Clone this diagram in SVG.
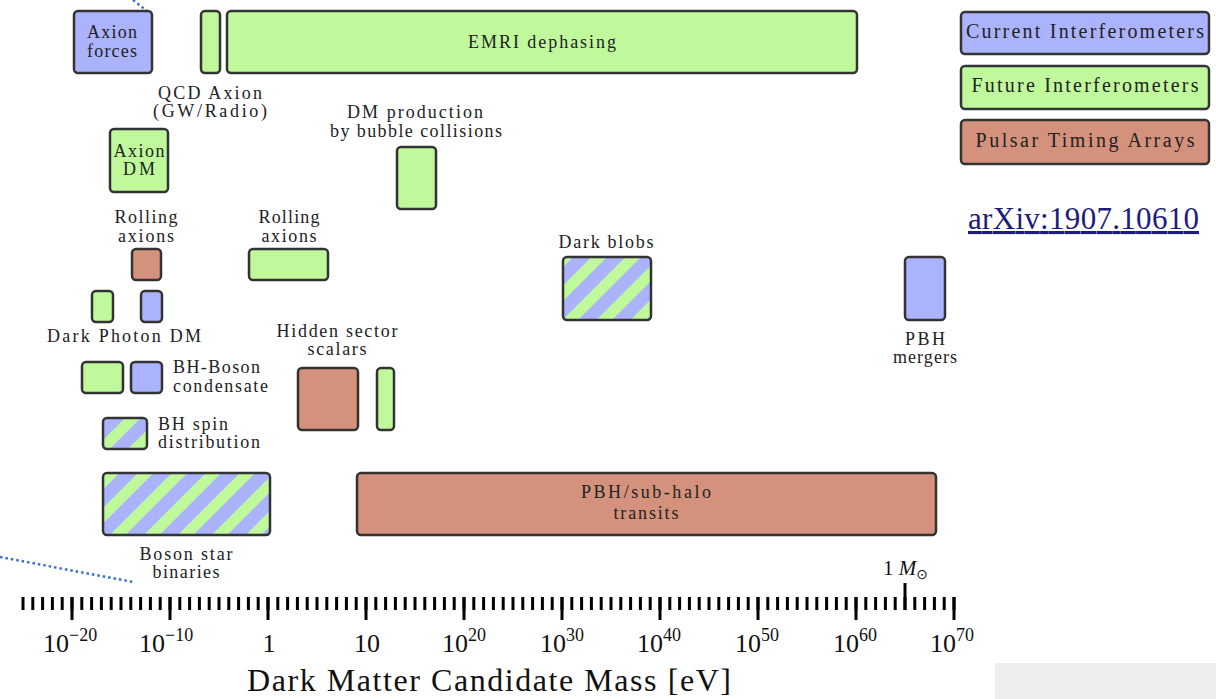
<svg xmlns="http://www.w3.org/2000/svg" width="1216" height="699" viewBox="0 0 1216 699">
<defs>
<pattern id="stripes" patternUnits="userSpaceOnUse" width="24" height="24" patternTransform="rotate(45)">
<rect width="24" height="24" fill="#abb3fc"/>
<rect width="11" height="24" fill="#bff99c"/>
</pattern>
</defs>
<style>
.box{stroke:#333;stroke-width:2.5}
.b{fill:#abb3fc}
.g{fill:#bff99c}
.r{fill:#d4917b}
.s{fill:url(#stripes)}
.t{font-family:"Liberation Serif","Times New Roman",serif;font-size:18px;fill:#222;text-anchor:middle}
.ts{font-family:"Liberation Serif","Times New Roman",serif;font-size:18px;fill:#222}
.lg{font-family:"Liberation Serif","Times New Roman",serif;font-size:20px;fill:#222;text-anchor:middle}
.ax{font-family:"Liberation Serif","Times New Roman",serif;font-size:26px;fill:#111}
.sup{font-size:18px}
.tick{stroke:#000;fill:none}
.dot{stroke:#3b6fcf;stroke-width:2.5;stroke-dasharray:2.5 3;fill:none}
</style>
<rect width="1216" height="699" fill="#fff"/>

<g id="connectors">
<line class="dot" x1="133" y1="0" x2="152" y2="15"/>
<line class="dot" x1="0" y1="557" x2="133" y2="582"/>
</g>

<g id="axion-forces">
<rect class="box b" x="74" y="11" width="78" height="62" rx="4"/>
<text class="t" x="112" y="38" textLength="50">Axion</text>
<text class="t" x="112" y="57" textLength="50">forces</text>
</g>
<g id="qcd-axion">
<rect class="box g" x="201" y="11" width="19" height="62" rx="4"/>
<text class="t" x="210" y="99" textLength="104">QCD Axion</text>
<text class="t" x="210" y="117" textLength="114">(GW/Radio)</text>
</g>
<g id="emri">
<rect class="box g" x="227" y="11" width="630" height="62" rx="4"/>
<text class="t" x="542" y="48" textLength="148">EMRI dephasing</text>
</g>
<g id="axion-dm">
<rect class="box g" x="110" y="129" width="58" height="63" rx="4"/>
<text class="t" x="139" y="157" textLength="51">Axion</text>
<text class="t" x="139" y="175" textLength="32">DM</text>
</g>
<g id="dm-bubble">
<rect class="box g" x="397" y="147" width="39" height="62" rx="4"/>
<text class="t" x="415" y="118" textLength="136">DM production</text>
<text class="t" x="416" y="137" textLength="172">by bubble collisions</text>
</g>
<g id="rolling-axions-pta">
<rect class="box r" x="132" y="249" width="29" height="31" rx="4"/>
<text class="t" x="146" y="223" textLength="63">Rolling</text>
<text class="t" x="146" y="242" textLength="56">axions</text>
</g>
<g id="rolling-axions-future">
<rect class="box g" x="249" y="249" width="79" height="31" rx="4"/>
<text class="t" x="289" y="223" textLength="61">Rolling</text>
<text class="t" x="289" y="242" textLength="55">axions</text>
</g>
<g id="dark-photon-dm">
<rect class="box g" x="92" y="291" width="21" height="31" rx="4"/>
<rect class="box b" x="141" y="291" width="21" height="31" rx="4"/>
<text class="t" x="124" y="342" textLength="154">Dark Photon DM</text>
</g>
<g id="bh-boson">
<rect class="box g" x="82" y="362" width="41" height="31" rx="4"/>
<rect class="box b" x="131" y="362" width="31" height="31" rx="4"/>
<text class="ts" x="173" y="373" textLength="87">BH-Boson</text>
<text class="ts" x="173" y="392" textLength="95">condensate</text>
</g>
<g id="bh-spin">
<rect class="box s" x="103" y="418" width="44" height="31" rx="4"/>
<text class="ts" x="158" y="430" textLength="70">BH spin</text>
<text class="ts" x="158" y="448" textLength="102">distribution</text>
</g>
<g id="hidden-sector">
<rect class="box r" x="298" y="368" width="60" height="62" rx="4"/>
<rect class="box g" x="377" y="368" width="17" height="62" rx="4"/>
<text class="t" x="337" y="337" textLength="121">Hidden sector</text>
<text class="t" x="337" y="355" textLength="59">scalars</text>
</g>
<g id="dark-blobs">
<rect class="box s" x="563" y="257" width="88" height="63" rx="4"/>
<text class="t" x="606" y="248" textLength="95">Dark blobs</text>
</g>
<g id="pbh-mergers">
<rect class="box b" x="905" y="257" width="40" height="63" rx="4"/>
<text class="t" x="925" y="345" textLength="40">PBH</text>
<text class="t" x="925" y="363" textLength="64">mergers</text>
</g>
<g id="boson-star">
<rect class="box s" x="103" y="473" width="167" height="62" rx="4"/>
<text class="t" x="186" y="560" textLength="93">Boson star</text>
<text class="t" x="186" y="578" textLength="67">binaries</text>
</g>
<g id="pbh-transits">
<rect class="box r" x="357" y="473" width="579" height="62" rx="4"/>
<text class="t" x="646" y="498" textLength="130">PBH/sub-halo</text>
<text class="t" x="646" y="519" textLength="65">transits</text>
</g>

<g id="legend">
<rect class="box b" x="961" y="12" width="248" height="42" rx="4"/>
<text class="lg" x="1085" y="38" textLength="238">Current Interferometers</text>
<rect class="box g" x="961" y="66" width="248" height="43" rx="4"/>
<text class="lg" x="1085" y="92" textLength="227">Future Interferometers</text>
<rect class="box r" x="961" y="120" width="248" height="44" rx="4"/>
<text class="lg" x="1085" y="147" textLength="219">Pulsar Timing Arrays</text>
</g>

<text x="968" y="229" font-family="'Liberation Serif','Times New Roman',serif" font-size="31" fill="#1c1c7e" text-decoration="underline" textLength="231">arXiv:1907.10610</text>

<g id="axis">
<line class="tick" x1="21.5" y1="603.5" x2="956" y2="603.5" stroke-width="13" stroke-dasharray="3 6.8"/>
<path class="tick" stroke-width="3" d="M72 597V620M170 597V620M268 597V620M366 597V620M464 597V620M562 597V620M660 597V620M758 597V620M856 597V620M954 597V620M905 583V610"/>
<text class="ax" x="43" y="652">10<tspan class="sup" dy="-11">−20</tspan></text>
<text class="ax" x="139" y="652">10<tspan class="sup" dy="-11">−10</tspan></text>
<text class="ax" x="269" y="652" text-anchor="middle">1</text>
<text class="ax" x="367" y="652" text-anchor="middle">10</text>
<text class="ax" x="442" y="652">10<tspan class="sup" dy="-11">20</tspan></text>
<text class="ax" x="540" y="652">10<tspan class="sup" dy="-11">30</tspan></text>
<text class="ax" x="637" y="652">10<tspan class="sup" dy="-11">40</tspan></text>
<text class="ax" x="735" y="652">10<tspan class="sup" dy="-11">50</tspan></text>
<text class="ax" x="833" y="652">10<tspan class="sup" dy="-11">60</tspan></text>
<text class="ax" x="930" y="652">10<tspan class="sup" dy="-11">70</tspan></text>
<text x="883" y="575" font-family="'Liberation Serif','DejaVu Serif',serif" font-size="21" fill="#111">1 <tspan font-style="italic">M</tspan><tspan font-size="14" dy="4" font-family="'DejaVu Sans',sans-serif">⊙</tspan></text>
<text x="489" y="691" font-family="'Liberation Serif','Times New Roman',serif" font-size="32" fill="#111" text-anchor="middle" textLength="484">Dark Matter Candidate Mass [eV]</text>
</g>

<rect x="995" y="663" width="221" height="36" fill="#eeeeee"/>
</svg>
